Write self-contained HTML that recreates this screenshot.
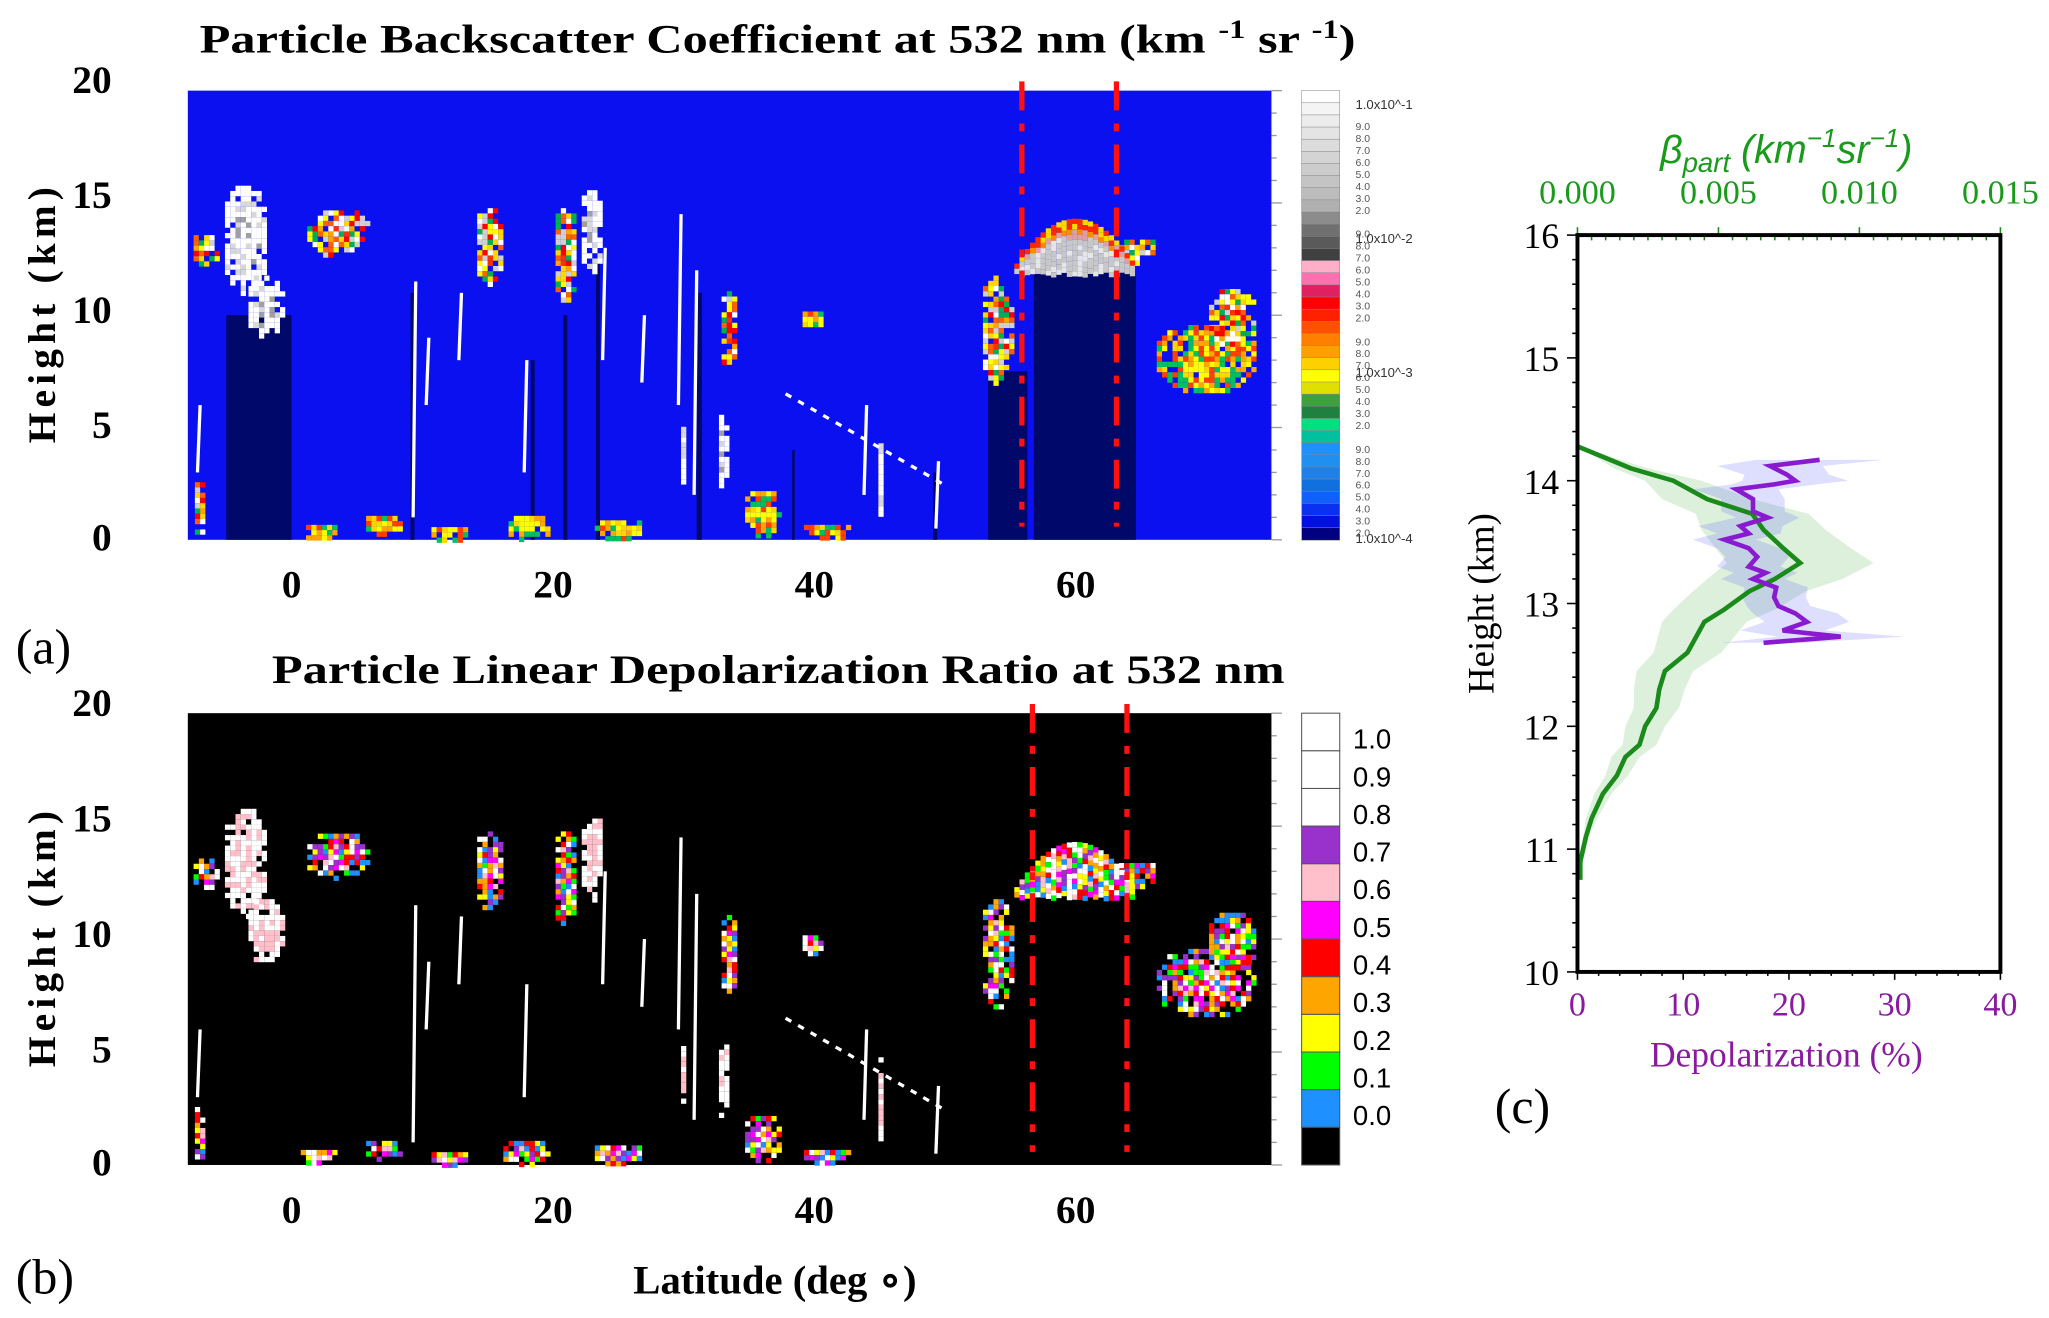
<!DOCTYPE html>
<html><head><meta charset="utf-8"><style>
html,body{margin:0;padding:0;background:#fff;}
svg{display:block;}
.ser{font-family:"Liberation Serif",serif;}
.sans{font-family:"Liberation Sans",sans-serif;}
</style></head><body>
<svg id="fig" xmlns="http://www.w3.org/2000/svg" width="2049" height="1318" viewBox="0 0 1560 1003.5" preserveAspectRatio="none">
<g id="pa"></g>
<g id="pb"></g>
<g id="pc"></g>
</svg>
<script>
// ---------- Panel (c) data ----------
const betaHeights = [14.28,14.1,14.0,13.85,13.73,13.6,13.45,13.33,13.2,13.1,12.95,12.85,12.6,12.45,12.3,12.15,12.0,11.85,11.75,11.6,11.45,11.25,11.1,10.9,10.75];
const betaValues  = [0.0000,0.0019,0.0034,0.0046,0.0062,0.0066,0.0073,0.0079,0.0070,0.0061,0.0052,0.0045,0.0039,0.0031,0.0029,0.0028,0.0024,0.0022,0.0017,0.0014,0.0009,0.0005,0.0003,0.0001,0.0001];
const betaErr     = [0.0000,0.0006,0.0010,0.0016,0.0020,0.0022,0.0024,0.0026,0.0024,0.0020,0.0018,0.0015,0.0012,0.0010,0.0009,0.0008,0.0007,0.0006,0.0005,0.0004,0.0003,0.0002,0.0001,0.0001,0.0000];
const depHeights = [14.17,14.12,14.05,14.0,13.97,13.93,13.85,13.75,13.7,13.63,13.57,13.52,13.45,13.38,13.3,13.25,13.2,13.13,13.05,12.98,12.92,12.85,12.78,12.73,12.68];
const depValues  = [22.9,18.2,19.8,20.6,18.6,15.0,16.6,16.6,18.0,15.4,16.2,13.9,16.2,17.0,16.2,17.8,16.6,18.8,18.6,19.0,20.6,21.7,19.4,24.9,17.6];
const depErr     = [6,5,4,5,4,4,3,3,3,4,3,3,3,3,3,3,3,3,3,3,4,4,4,6,4];
const depTicks = [0,10,20,30,40];
const betaTicks = [0.000,0.005,0.010,0.015];
const hTicksC = [10,11,12,13,14,15,16];

// ---------- Panels (a)/(b) data ----------
const latTicks = [0,20,40,60];
const hTicksAB = [0,5,10,15,20];
const blobLat  = [-6.5,-3.5,-2,3.5,15.2,21,23,33.5,39.8,54,64.5,70,72,7,18,25,36,-7,30,33,45,2,12,41];
const blobH    = [13,13.5,10.5,13.8,13.2,12.8,13.8,9.5,9.9,9.5,13,8.2,10,0.8,0.7,0.6,1.3,1.5,4,4,3,0.5,0.4,0.5];
const blobDL   = [1.2,1.8,1.5,2.5,1.2,1,1,0.8,0.9,1.3,1.8,4,2,1.5,2,2,1.5,0.6,0.4,0.5,0.3,1.5,1.5,2];
const blobDH   = [0.8,2.5,1.5,1.1,1.8,2.2,2,1.8,0.5,2.5,0.6,1.6,1.4,0.5,0.6,0.5,1.1,1.3,1.5,1.8,2,0.4,0.4,0.4];
const blobKind = [0,1,1,0,0,0,1,0,2,0,0,2,0,2,2,2,2,0,1,1,1,2,2,2];
const streakLat = [9.5,10.5,18,29.8,31,24,49.5,-7,13,27,44];
const streakH0  = [1,6,3,6,2,8,0.5,3,8,7,2];
const streakH1  = [11.5,9,8,14.5,12,13,3.5,6,11,10,6];
const colLat0 = [-4.8,53.5,57,9.3,18.5,21,23.5,31.2,38.5,49.3];
const colLat1 = [0.2,56.5,64.8,9.6,18.8,21.3,23.8,31.6,38.7,49.6];
const colTop  = [10,7.5,12.3,11,8,10,12.5,11,4,3];
const archLat = [55.5,64.5]; const archTop = 14.3, archBase = 12.3;
const cbarALabels = ["1.0x10^-1","1.0x10^-2","1.0x10^-3","1.0x10^-4"];
const cbarBLabels = ["1.0","0.9","0.8","0.7","0.6","0.5","0.4","0.3","0.2","0.1","0.0"];
const cbarBColors = ["#ffffff","#ffffff","#ffffff","#9932cc","#ffc0cb","#ff00ff","#ff0000","#ffa500","#ffff00","#00ff00","#1e90ff","#000000"];

const NS="http://www.w3.org/2000/svg";
function mk(parent,tag,attrs,text){const e=document.createElementNS(NS,tag);for(const k in attrs)e.setAttribute(k,attrs[k]);if(text!==undefined)e.textContent=text;parent.appendChild(e);return e;}
function hash(i,j,s){let h=(i*374761393+j*668265263+s*2147483647)|0;h=(h^(h>>>13))*1274126177|0;return ((h^(h>>>16))>>>0)/4294967295;}

function curtain(g,top,bottom,bg,palette,navy,lines,seed,streakCol){
  const L=143,R=968;
  const X=lat=>220+lat*9.95, Y=h=>bottom-h*(bottom-top)/20;
  let e=mk(g,'rect',{x:L,y:top,width:R-L,height:bottom-top,fill:bg});
  
  if(navy){for(let i=0;i<colLat0.length;i++){e=mk(g,'rect',{x:X(colLat0[i]),y:Y(colTop[i]),width:X(colLat1[i])-X(colLat0[i]),height:bottom-Y(colTop[i]),fill:navy});
    }}
  const cell=4;
  for(let b=0;b<blobLat.length;b++){
    const cg=mk(g,'g',{});
    const x0=X(blobLat[b]-blobDL[b]),x1=X(blobLat[b]+blobDL[b]),y0=Y(blobH[b]+blobDH[b]),y1=Y(blobH[b]-blobDH[b]);
    const cx=(x0+x1)/2,cy=(y0+y1)/2,rx=(x1-x0)/2,ry=(y1-y0)/2;
    for(let x=x0;x<x1;x+=cell)for(let y=y0;y<y1;y+=cell){
      const d=Math.hypot((x-cx)/rx,(y-cy)/ry);if(d>1)continue;
      const r=hash(Math.round(x),Math.round(y),seed+b);if(r<d*0.5-0.15)continue;
      mk(cg,'rect',{x:x,y:y,width:cell,height:cell,fill:palette(blobKind[b],d,r)});}
  }
  const ag=mk(g,'g',{});
  const c=(archLat[0]+archLat[1])/2,hw=(archLat[1]-archLat[0])/2;
  for(let x=X(archLat[0]);x<X(archLat[1]);x+=cell){
    const lat=(x-220)/9.95,t=(lat-c)/hw;const top_h=archBase+(archTop-archBase)*(1-t*t);
    for(let y=Y(top_h);y<Y(archBase-0.4);y+=cell){
      const depth=(y-Y(top_h))/ (Y(archBase-0.4)-Y(top_h));const r=hash(Math.round(x),Math.round(y),seed+99);
      mk(ag,'rect',{x:x,y:y,width:cell,height:cell,fill:palette(3,depth,r)});}
  }
  for(let i=0;i<streakLat.length;i++){e=mk(g,'line',{x1:X(streakLat[i]),x2:X(streakLat[i])+2,y1:Y(streakH0[i]),y2:Y(streakH1[i]),stroke:streakCol,'stroke-width':2.5});
    }
  e=mk(g,'line',{x1:X(38),y1:Y(6.5),x2:X(50),y2:Y(2.5),stroke:streakCol,'stroke-width':2.5,'stroke-dasharray':'5 6'});
  
  for(const lx of lines){e=mk(g,'line',{x1:lx,x2:lx,y1:top-7,y2:bottom-10,stroke:'#ff1010','stroke-width':4,'stroke-dasharray':'22 10 6 10'});
    }
  for(let h=0;h<=20;h+=1){mk(g,'line',{x1:R,x2:R+(h%5?4:8),y1:Y(h),y2:Y(h),stroke:'#999','stroke-width':1});}
  for(const h of hTicksAB){e=mk(g,'text',{x:85,y:bottom-h*(bottom-top+8)/20+10+ (h===0?-2:0),'text-anchor':'end','font-size':30,'font-weight':'bold',class:'ser'},String(h));
    }
  for(const t of latTicks){e=mk(g,'text',{x:X(t)+2,y:bottom+44,'text-anchor':'middle','font-size':30,'font-weight':'bold',class:'ser'},String(t));
    }
  e=mk(g,'text',{transform:`translate(42,${(top+bottom)/2}) rotate(-90)`,'text-anchor':'middle','font-size':30,'font-weight':'bold',class:'ser',textLength:195,lengthAdjust:'spacing'},'Height (km)');
  
}

const palA=(k,d,r)=>{
  if(k===1)return r>0.4?'#ffffff':(r>0.2?'#d8d8d8':'#a0a0a0');
  if(k===3)return d<0.15?(r>0.5?'#ff2a00':'#ffd800'):(d<0.3?(r>0.5?'#ff8c00':'#e0a0a0'):(r>0.3?'#c8c8c8':'#e6e6e6'));
  if(k===2){const p=['#ffff00','#ffd700','#ffa500','#00c060','#ff4000','#ffff00'];return p[Math.floor(r*6)];}
  const p=['#ff3000','#ffa500','#ffd700','#ffff00','#ff6000','#ffffff','#d0d0d0','#00b050','#ff0000'];return p[Math.floor(r*9)];};
const palB=(k,d,r)=>{
  if(k===1)return r>0.5?'#ffffff':'#ffc0cb';
  const p=['#ffffff','#ffc0cb','#ff00ff','#00ff00','#ffff00','#ff0000','#ffa500','#9932cc','#1e90ff','#ffffff'];return p[Math.floor(r*10)];};

const pa=document.getElementById('pa');
let e=mk(pa,'text',{x:152,y:40,'font-size':31,'font-weight':'bold',class:'ser',textLength:880,lengthAdjust:'spacingAndGlyphs'});

e.innerHTML='Particle Backscatter Coefficient at 532 nm (km <tspan dy="-11" font-size="20">-1</tspan><tspan dy="11"> sr </tspan><tspan dy="-11" font-size="20">-1</tspan><tspan dy="11">)</tspan>';
curtain(pa,69,411,'#0a10f0',palA,'#00086a',[778,850],1,'#ffffff');
const cbA=['#ffffff','#f4f4f4','#ececec','#e4e4e4','#dcdcdc','#d4d4d4','#cccccc','#c4c4c4','#bcbcbc','#b0b0b0','#8c8c8c','#707070','#5a5a5a','#404040','#ffb0c8','#ff70b0','#e02060','#ff0000','#ff2000','#ff5000','#ff8000','#ffa000','#ffd000','#ffff00','#e0e000','#40a040','#208040','#00e080','#00c0a0','#1e90ff','#2090f0','#2080e8','#1070e0','#1060ff','#0a30f0','#0010e0','#000080'];
const gA=mk(pa,'g',{});
const bhA=(411-69)/cbA.length;
cbA.forEach((c,i)=>mk(gA,'rect',{x:991,y:69+i*bhA,width:29,height:bhA+0.3,fill:c,stroke:'#888','stroke-width':0.4}));
cbarALabels.forEach((t,i)=>{const ee=mk(gA,'text',{x:1032,y:83+i*(327/3)*0.9+ (i===3?36:i*4),'font-size':10,class:'sans',fill:'#333'},t);});
for(let i=0;i<36;i++){if(i%9)mk(gA,'text',{x:1032,y:90+i*9.1,'font-size':8,class:'sans',fill:'#555'},String(9-(i%9)+1)+'.0');}
e=mk(pa,'text',{x:12,y:505,'font-size':38,class:'ser'},'(a)');

const pb=document.getElementById('pb');
e=mk(pb,'text',{x:207,y:520,'font-size':31,'font-weight':'bold',class:'ser',textLength:771,lengthAdjust:'spacingAndGlyphs'},'Particle Linear Depolarization Ratio at 532 nm');

curtain(pb,543,887,'#000000',palB,null,[786,858],7,'#ffffff');
const gB=mk(pb,'g',{});
const bhB=(887-543)/12;
cbarBColors.forEach((c,i)=>mk(gB,'rect',{x:991,y:543+i*bhB,width:29,height:bhB,fill:c,stroke:'#555','stroke-width':0.8}));
cbarBLabels.forEach((t,i)=>{const ee=mk(gB,'text',{x:1030,y:572+i*bhB-2,'font-size':21,class:'sans'},t);});
e=mk(pb,'text',{x:590,y:985,'text-anchor':'middle','font-size':31,'font-weight':'bold',class:'ser'},'Latitude (deg ∘)');

e=mk(pb,'text',{x:12,y:985,'font-size':38,class:'ser'},'(b)');

const pc=document.getElementById('pc');
const cL=1201,cR=1523,cT=179,cB=740;
const yH=h=>cB-(h-10)*(cB-cT)/6, xD=d=>cL+d*(cR-cL)/40, xBt=b=>cL+b/0.015*(cR-cL);
function band(xs,hs,err,fx,fill,name){let up=hs.map((h,i)=>`${fx(xs[i]+err[i])},${yH(h)}`);let dn=hs.map((h,i)=>`${fx(Math.max(0,xs[i]-err[i]))},${yH(h)}`).reverse();
  const p=mk(pc,'polygon',{points:up.concat(dn).join(' '),fill:fill});}
band(betaValues,betaHeights,betaErr,xBt,'rgba(60,170,60,0.18)','beta-uncertainty-band');
band(depValues,depHeights,depErr,xD,'rgba(90,90,255,0.2)','depolarization-uncertainty-band');
e=mk(pc,'polyline',{points:betaHeights.map((h,i)=>`${xBt(betaValues[i])},${yH(h)}`).join(' '),fill:'none',stroke:'#1a8a1a','stroke-width':3.5});

e=mk(pc,'polyline',{points:depHeights.map((h,i)=>`${xD(depValues[i])},${yH(h)}`).join(' '),fill:'none',stroke:'#8a1ad0','stroke-width':3.5});

for(let h=10;h<=16.001;h+=0.2){const maj=Math.abs(h-Math.round(h))<0.01;mk(pc,'line',{x1:cL-(maj?8:4),x2:cL,y1:yH(h),y2:yH(h),stroke:'#000','stroke-width':1.2});}
hTicksC.forEach(h=>{const ee=mk(pc,'text',{x:cL-14,y:yH(h)+10,'text-anchor':'end','font-size':27,class:'ser'},String(h));});
for(let d=0;d<=40;d+=2){mk(pc,'line',{x1:xD(d),x2:xD(d),y1:cB,y2:cB+(d%10?3:6),stroke:'#000','stroke-width':1.2});}
depTicks.forEach(d=>{const ee=mk(pc,'text',{x:xD(d),y:cB+33,'text-anchor':'middle','font-size':26,class:'ser',fill:'#8a1aa0'},String(d));});
for(let b=0;b<=0.0150001;b+=0.0005){mk(pc,'line',{x1:xBt(b),x2:xBt(b),y1:cT,y2:cT+(Math.abs(b*200-Math.round(b*200))<0.01?-6:4),stroke:'#1a8a1a','stroke-width':1.2});}
e=mk(pc,'rect',{x:cL,y:cT,width:cR-cL,height:cB-cT,fill:'none',stroke:'#000','stroke-width':3});

betaTicks.forEach(b=>{const ee=mk(pc,'text',{x:xBt(b),y:cT-24,'text-anchor':'middle','font-size':26,class:'ser',fill:'#1a9a1a'},b.toFixed(3));});
e=mk(pc,'text',{x:1360,y:124,'text-anchor':'middle','font-size':30,class:'sans',fill:'#1a9a1a','font-style':'italic'});

e.innerHTML='β<tspan dy="7" font-size="21">part</tspan><tspan dy="-7"> (km</tspan><tspan dy="-12" font-size="20">−1</tspan><tspan dy="12">sr</tspan><tspan dy="-12" font-size="20">−1</tspan><tspan dy="12">)</tspan>';
e=mk(pc,'text',{x:1360,y:812,'text-anchor':'middle','font-size':27,class:'ser',fill:'#8a1aa0'},'Depolarization (%)');

e=mk(pc,'text',{transform:`translate(1137,${(cT+cB)/2}) rotate(-90)`,'text-anchor':'middle','font-size':28,class:'ser'},'Height (km)');

e=mk(pc,'text',{x:1138,y:855,'font-size':38,class:'ser'},'(c)');
</script>
</body></html>
